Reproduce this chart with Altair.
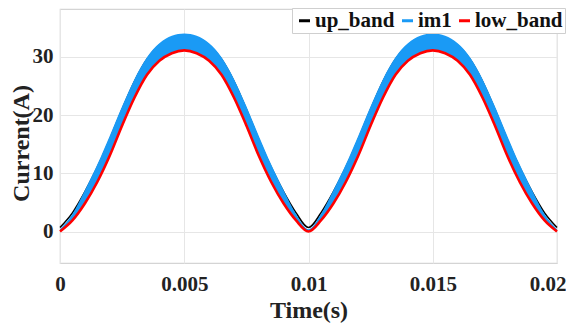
import altair as alt
import pandas as pd

# sample times (s)
time_s = [0.0, 0.0005, 0.001, 0.0015, 0.002, 0.0025, 0.003, 0.0035, 0.004, 0.0045,
          0.005, 0.0055, 0.006, 0.0065, 0.007, 0.0075, 0.008, 0.0085, 0.009, 0.0095,
          0.01, 0.0105, 0.011, 0.0115, 0.012, 0.0125, 0.013, 0.0135, 0.014, 0.0145,
          0.015, 0.0155, 0.016, 0.0165, 0.017, 0.0175, 0.018, 0.0185, 0.019, 0.0195,
          0.02]

# upper hysteresis band (A)
up_band = [0.7, 3.2, 6.8, 11.0, 15.8, 21.0, 25.8, 29.6, 32.0, 33.3,
           33.7, 33.3, 32.0, 29.6, 25.8, 21.0, 15.8, 11.0, 6.8, 3.2,
           0.7, 3.2, 6.8, 11.0, 15.8, 21.0, 25.8, 29.6, 32.0, 33.3,
           33.7, 33.3, 32.0, 29.6, 25.8, 21.0, 15.8, 11.0, 6.8, 3.2,
           0.7]

# lower hysteresis band (A)
low_band = [0.0, 1.9, 4.8, 8.5, 13.0, 18.2, 23.0, 26.9, 29.3, 30.6,
            31.1, 30.6, 29.3, 26.9, 23.0, 18.2, 13.0, 8.5, 4.8, 1.9,
            0.0, 1.9, 4.8, 8.5, 13.0, 18.2, 23.0, 26.9, 29.3, 30.6,
            31.1, 30.6, 29.3, 26.9, 23.0, 18.2, 13.0, 8.5, 4.8, 1.9,
            0.0]

# envelope of the switching current im1 (A)
im1_max = [0.4, 3.0, 7.1, 11.5, 16.4, 21.5, 26.2, 29.9, 32.3, 33.6,
           34.0, 33.6, 32.3, 29.9, 26.2, 21.5, 16.4, 11.5, 7.1, 3.0,
           0.4, 3.0, 7.1, 11.5, 16.4, 21.5, 26.2, 29.9, 32.3, 33.6,
           34.0, 33.6, 32.3, 29.9, 26.2, 21.5, 16.4, 11.5, 7.1, 3.0,
           0.4]
im1_min = low_band

series_names = ["up_band", "im1", "low_band"]
series_colors = ["#000000", "#1a9af5", "#ff0000"]

band_df = pd.DataFrame({"t": time_s, "lo": im1_min, "hi": im1_max})
up_df = pd.DataFrame({"t": time_s, "v": up_band, "s": "up_band"})
low_df = pd.DataFrame({"t": time_s, "v": low_band, "s": "low_band"})

FONT = "Liberation Serif"

xscale = alt.Scale(domain=[0, 0.02], nice=False, zero=False)
yscale = alt.Scale(domain=[-5.4, 38.2], nice=False, zero=False)

xaxis = alt.Axis(values=[0, 0.005, 0.01, 0.015, 0.02], format="~g", title="Time(s)",
                 labelPadding=10, titlePadding=4, labelFlush=False,
                 labelAlign={"condition": {"test": "datum.value >= 0.0199", "value": "right"},
                             "value": "center"},
                 labelOffset={"condition": {"test": "datum.value >= 0.0199", "value": 9},
                              "value": 0})
yaxis = alt.Axis(values=[0, 10, 20, 30], title="Current(A)", labelPadding=7,
                 titleX=-39, titleY=134, titleBaseline="middle", titleAlign="center",
                 titleFontSize=24)

color = alt.Color("s:N", scale=alt.Scale(domain=series_names, range=series_colors),
                  legend=alt.Legend(orient="none", legendX=232, legendY=-1,
                                    direction="horizontal", title=None,
                                    symbolType="stroke", symbolStrokeWidth=3,
                                    symbolSize=121, labelOffset=0, columnPadding=1,
                                    padding=2, fillColor="white", strokeColor="#cfcfcf",
                                    labelFont=FONT, labelFontWeight="bold",
                                    labelFontSize=21, labelColor="#111111",
                                    labelLimit=200))

up_line = alt.Chart(up_df).mark_line(strokeWidth=1.6, interpolate="monotone").encode(
    x=alt.X("t:Q", scale=xscale, axis=xaxis),
    y=alt.Y("v:Q", scale=yscale, axis=yaxis),
    color=color,
)

band = alt.Chart(band_df).mark_area(color="#1a9af5", opacity=1, interpolate="monotone").encode(
    x=alt.X("t:Q", scale=xscale),
    y=alt.Y("hi:Q", scale=yscale),
    y2="lo:Q",
)

low_line = alt.Chart(low_df).mark_line(strokeWidth=2.6, interpolate="monotone").encode(
    x=alt.X("t:Q", scale=xscale),
    y=alt.Y("v:Q", scale=yscale),
    color=color,
)

chart = alt.layer(up_line, band, low_line).properties(
    width=497, height=254,
    autosize=alt.AutoSizeParams(type="none"),
    padding={"left": 52, "top": 1, "right": 9, "bottom": 61},
).configure_view(stroke="#d4d4d4", strokeWidth=1.2).configure_axis(
    grid=True, gridColor="#e6e6e6", gridWidth=1, domain=False, ticks=False,
    labelFont=FONT, labelFontWeight="bold", labelFontSize=21, labelColor="#222222",
    titleFont=FONT, titleFontWeight="bold", titleFontSize=24, titleColor="#222222",
)

chart.save("out.html", embed_options={"renderer": "svg", "actions": False})
